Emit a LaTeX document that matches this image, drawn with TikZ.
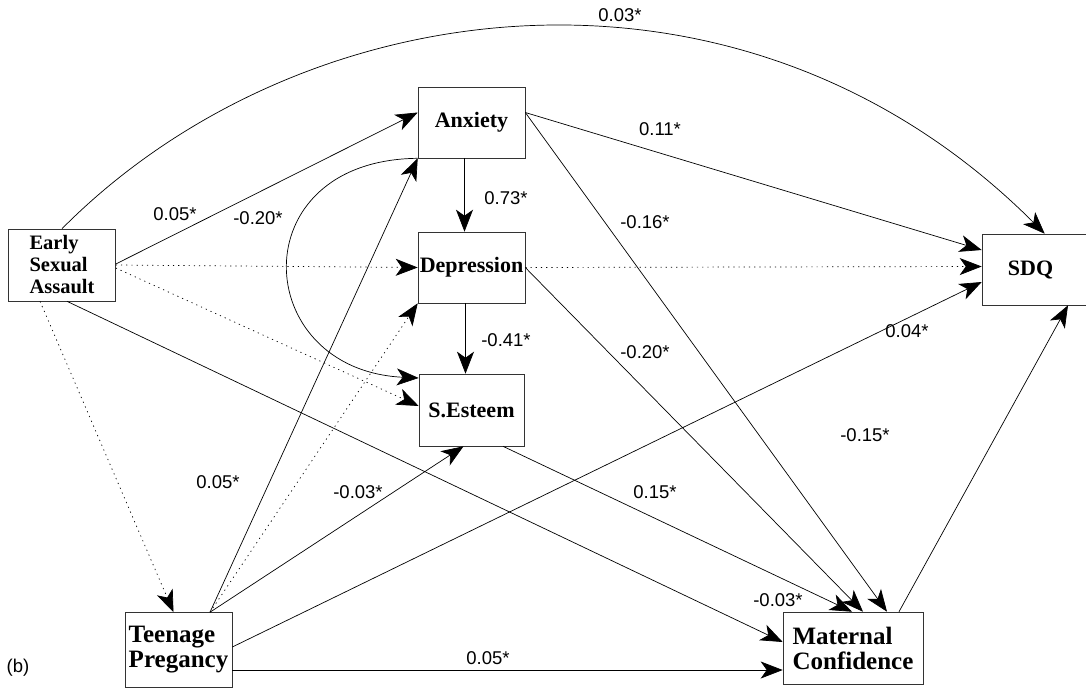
\documentclass[tikz,border=0pt]{standalone}
\usepackage{fontspec}
\setmainfont{Liberation Serif}
\newfontfamily\labfont{Liberation Sans}
\usetikzlibrary{arrows.meta,calc}
\begin{document}
\begin{tikzpicture}[x=1pt,y=-1pt,
  box/.style={draw=black!80, line width=0.6pt, inner sep=0pt, font=\bfseries\fontsize{22}{24}\selectfont},
  bigbox/.style={box, align=left, font=\bfseries\fontsize{25}{25}\selectfont},
  lbl/.style={inner sep=0pt, font=\labfont\fontsize{18.5}{20}\selectfont},
  arr/.style={line width=0.7pt, -{Stealth[length=22pt,width=17pt,inset=6pt]}},
  dotarr/.style={arr, dash pattern=on 1.2pt off 4pt}]
\useasboundingbox (0,0) rectangle (1086,691);
\clip (0,0) rectangle (1086,691);

% boxes
\node[box, minimum width=107pt, minimum height=72pt, align=left, font=\bfseries\fontsize{20.5}{22}\selectfont] (esa) at (62,265) {Early\\Sexual\\Assault};
\node[bigbox, minimum width=107pt, minimum height=75pt] (tp) at (178.5,650) {Teenage\\Pregancy};
\node[bigbox, minimum width=140pt, minimum height=72pt] (mat) at (853,648) {Maternal\\Confidence};
\node[box, minimum width=107pt, minimum height=71pt] (anx) at (471.5,122.5) {Anxiety};
\node[box, minimum width=107pt, minimum height=71pt] (dep) at (471.5,267.5) {Depression};
\node[box, minimum width=105pt, minimum height=72pt] (se) at (471.5,410) {S.Esteem};
\node[box, minimum width=115pt, minimum height=71pt] (sdq) at (1039.5,269.5) {\hspace*{-18pt}SDQ};

% connectors
\draw[arr] (esa.north) .. controls (302,-13) and (742,-69) .. ($(sdq.north west)+(63,0)$);
\draw[arr] ($(esa.east)+(0,-1)$) -- ($(anx.west)+(0,-10)$);
\draw[dotarr] (esa.east) -- (dep.west);
\draw[dotarr] ($(esa.east)+(0,3)$) -- ($(se.west)+(0,-4)$);
\draw[dotarr] ($(esa.south)+(-22,0)$) -- ($(tp.north)+(-5,0)$);
\draw[arr] ($(esa.south)+(5,0)$) -- ($(mat.west)+(0,-6)$);

\draw[arr] ($(anx.south)+(-7,0)$) -- ($(dep.north)+(-7,0)$);
\draw[arr] ($(dep.south)+(-6,0)$) -- ($(se.north)+(-6,0)$);
\draw[arr] (anx.south west) .. controls (240,160) and (250,370) .. ($(se.west)+(0,-32)$);
\draw[arr] ($(anx.east)+(0,-10)$) -- ($(sdq.west)+(0,-19.5)$);
\draw[arr] ($(anx.east)+(0,-10)$) -- ($(mat.north)+(34,0)$);
\draw[dotarr] (dep.east) -- ($(sdq.west)+(0,-3)$);
\draw[arr] (dep.east) -- ($(mat.north)+(10,0)$);
\draw[arr] ($(se.south)+(31.5,0)$) -- ($(mat.north)+(-1,0)$);

\draw[arr] ($(tp.north)+(31.5,0)$) -- (anx.south west);
\draw[dotarr] ($(tp.north)+(31.5,0)$) -- (dep.south west);
\draw[arr] ($(tp.north)+(31.5,0)$) -- ($(se.south)+(-8,0)$);
\draw[arr] ($(tp.east)+(0,-3)$) -- ($(sdq.west)+(0,12.5)$);
\draw[arr] ($(tp.east)+(0,20)$) -- ($(mat.west)+(0,22)$);
\draw[arr] ($(mat.north)+(46,0)$) -- ($(sdq.south)+(28.5,0)$);

% labels
\node[lbl] (l1) at (620,15) {0.03*};
\node[lbl] (l2) at (660,129) {0.11*};
\node[lbl] (l3) at (175,214) {0.05*};
\node[lbl] (l4) at (506,198) {0.73*};
\node[lbl] (l5) at (645,222) {-0.16*};
\node[lbl] (l6) at (258,218) {-0.20*};
\node[lbl] (l7) at (907,331) {0.04*};
\node[lbl] (l8) at (506,340) {-0.41*};
\node[lbl] (l9) at (645,352) {-0.20*};
\node[lbl] (l10) at (865,435) {-0.15*};
\node[lbl] (l11) at (218,482) {0.05*};
\node[lbl] (l12) at (358,492) {-0.03*};
\node[lbl] (l13) at (655,492) {0.15*};
\node[lbl] (l14) at (778,600) {-0.03*};
\node[lbl] (l15) at (488,658) {0.05*};
\node[lbl] (lb) at (18,668) {(b)};
\end{tikzpicture}
\end{document}
